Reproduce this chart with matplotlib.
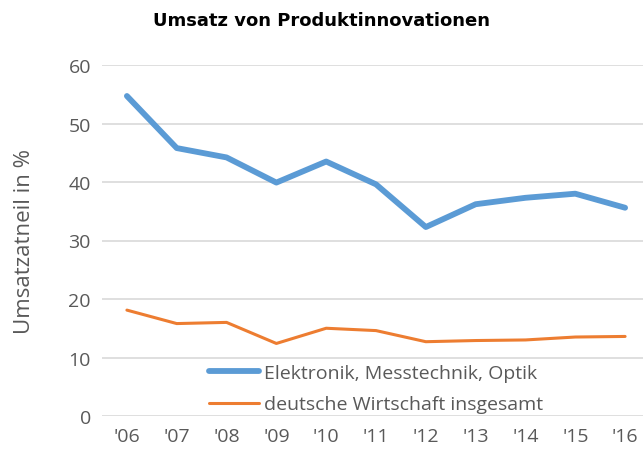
import matplotlib.pyplot as plt

# Werte
years = ["'06", "'07", "'08", "'09", "'10", "'11", "'12", "'13", "'14", "'15", "'16"]
elektronik = [54.7, 45.8, 44.2, 39.9, 43.5, 39.6, 32.3, 36.2, 37.3, 38.0, 35.6]
wirtschaft = [18.1, 15.8, 16.0, 12.4, 15.0, 14.6, 12.7, 12.9, 13.0, 13.5, 13.6]

plt.rcParams['font.family'] = ['Open Sans', 'DejaVu Sans']
grey = '#595959'

fig = plt.figure(figsize=(6.43, 4.56), dpi=100)
ax = fig.add_axes([102 / 643, 1 - 417 / 456, 548 / 643, 351 / 456])

x = range(len(years))
ax.plot(x, elektronik, color='#5B9BD5', lw=4.2, solid_capstyle='round',
        solid_joinstyle='round', label='Elektronik, Messtechnik, Optik', zorder=3)
ax.plot(x, wirtschaft, color='#ED7D31', lw=2.2, solid_capstyle='round',
        solid_joinstyle='round', label='deutsche Wirtschaft insgesamt', zorder=3)

ax.set_xlim(-0.5, len(years) - 0.5)
ax.set_ylim(0, 60)
ax.set_yticks(range(0, 61, 10))
ax.set_xticks(list(x))
ax.set_xticklabels(years)
ax.grid(axis='y', color='#d9d9d9', lw=1.2)
ax.set_axisbelow(True)
for s in ax.spines.values():
    s.set_visible(False)
ax.tick_params(length=0, labelsize=14, colors=grey, pad=8)
ax.set_ylabel('Umsatzatneil in %', fontsize=16, color=grey, labelpad=24)

fig.text(0.5, 0.955, 'Umsatz von Produktinnovationen', ha='center', va='center',
         fontsize=13, fontweight='bold', family='DejaVu Sans')

leg = ax.legend(loc='upper left', bbox_to_anchor=(198 / 643, 1 - 354 / 456),
                bbox_transform=fig.transFigure, frameon=True, fontsize=14,
                handlelength=2.6, handletextpad=0.25, labelspacing=0.7,
                borderpad=0.05, labelcolor=grey)
leg.get_frame().set_edgecolor('none')
leg.get_frame().set_facecolor('white')
leg.get_frame().set_alpha(1)

fig.savefig('out.png', dpi=100)
